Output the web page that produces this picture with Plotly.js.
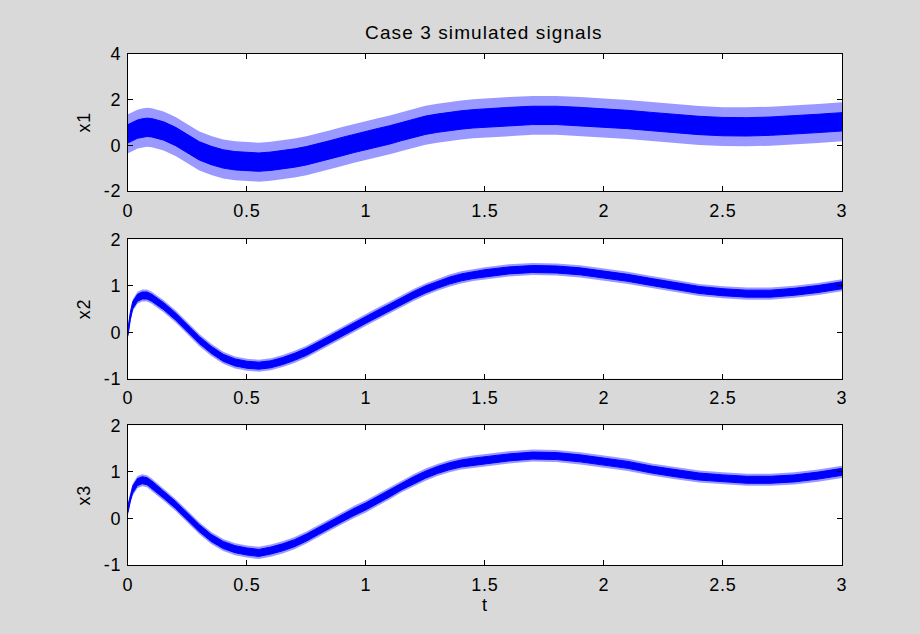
<!DOCTYPE html>
<html>
<head>
<meta charset="utf-8">
<script src="https://cdn.plot.ly/plotly-3.0.1.min.js"></script>
<style>
html,body{margin:0;padding:0;background:#d9d9d9;}
#chart{width:920px;height:634px;}
#chart .xtick text, #chart .ytick text, #chart .x2tick text, #chart .y2tick text, #chart .x3tick text, #chart .y3tick text {letter-spacing:0.8px;}
#chart .gtitle {letter-spacing:1.1px;}
#chart .ytitle, #chart .y2title, #chart .y3title, #chart .x3title {letter-spacing:0.8px;}
</style>
</head>
<body>
<div id="chart"></div>
<script>
var t = [0, 0.01, 0.02, 0.04, 0.06, 0.08, 0.1, 0.15, 0.2, 0.25, 0.3, 0.35, 0.4, 0.45, 0.5, 0.55, 0.6, 0.65, 0.7, 0.75, 0.8, 0.85, 0.9, 0.95, 1.0, 1.05, 1.1, 1.15, 1.2, 1.25, 1.3, 1.35, 1.4, 1.45, 1.5, 1.6, 1.7, 1.8, 1.9, 2.0, 2.1, 2.2, 2.3, 2.4, 2.5, 2.6, 2.7, 2.8, 2.9, 3.0];

// Mid level of each noisy signal
var x1_mid = [0.5, 0.55, 0.6, 0.7, 0.75, 0.78, 0.76, 0.62, 0.38, 0.05, -0.25, -0.45, -0.6, -0.68, -0.72, -0.74, -0.7, -0.64, -0.56, -0.46, -0.34, -0.2, -0.06, 0.08, 0.22, 0.33, 0.45, 0.6, 0.75, 0.87, 0.96, 1.04, 1.1, 1.15, 1.19, 1.25, 1.3, 1.3, 1.25, 1.19, 1.12, 1.03, 0.93, 0.86, 0.81, 0.8, 0.83, 0.88, 0.95, 1.02];
var x2_mid = [0, 0.35, 0.58, 0.74, 0.79, 0.79, 0.74, 0.56, 0.34, 0.09, -0.17, -0.38, -0.55, -0.65, -0.70, -0.72, -0.69, -0.62, -0.53, -0.42, -0.29, -0.15, -0.01, 0.13, 0.27, 0.40, 0.53, 0.67, 0.80, 0.92, 1.02, 1.11, 1.18, 1.23, 1.27, 1.33, 1.36, 1.35, 1.31, 1.24, 1.17, 1.08, 0.99, 0.91, 0.86, 0.83, 0.83, 0.87, 0.93, 1.01];
var x3_mid = [0.2, 0.45, 0.62, 0.78, 0.82, 0.8, 0.73, 0.51, 0.29, 0.04, -0.21, -0.42, -0.57, -0.66, -0.71, -0.74, -0.69, -0.62, -0.53, -0.41, -0.27, -0.13, 0.01, 0.14, 0.26, 0.40, 0.54, 0.69, 0.82, 0.94, 1.04, 1.12, 1.18, 1.22, 1.25, 1.31, 1.35, 1.34, 1.29, 1.22, 1.15, 1.05, 0.97, 0.90, 0.86, 0.83, 0.83, 0.86, 0.92, 1.0];

// Read noise half-widths: dense core and sparse spikes
var x1_core = 0.4, x1_spike = 0.85;
var x2_core = 0.075, x2_spike = 0.13;
var x3_core = 0.075, x3_spike = 0.13;

var yTicks12 = [-2, 0, 2, 4];
var yTicks23 = [-1, 0, 1, 2];
var xTicks = [0, 0.5, 1, 1.5, 2, 2.5, 3];
var names = ['x1', 'x2', 'x3'];

var BLUE = '#0000ff';
function band(mid, w, xa, ya, fill, lineW) {
  var xs = t.concat(t.slice().reverse());
  var hi = mid.map(function (v) { return v + w; });
  var lo = mid.map(function (v) { return v - w; }).reverse();
  return {x: xs, y: hi.concat(lo), xaxis: xa, yaxis: ya, type: 'scatter', mode: 'lines',
    fill: 'toself', fillcolor: fill, line: {color: fill, width: lineW}, hoverinfo: 'skip', showlegend: false};
}

var data = [
  band(x1_mid, x1_spike, 'x', 'y', 'rgba(0,0,255,0.4)', 0),
  band(x1_mid, x1_core, 'x', 'y', BLUE, 1),
  band(x2_mid, x2_spike, 'x2', 'y2', 'rgba(0,0,255,0.4)', 0),
  band(x2_mid, x2_core, 'x2', 'y2', BLUE, 1),
  band(x3_mid, x3_spike, 'x3', 'y3', 'rgba(0,0,255,0.4)', 0),
  band(x3_mid, x3_core, 'x3', 'y3', BLUE, 1)
];

var FONT = {family: 'Liberation Sans, Arial, sans-serif', size: 18, color: '#000'};
var TFONT = {family: 'Liberation Sans, Arial, sans-serif', size: 19, color: '#000'};
function xax(anchor, title) {
  var a = {domain: [0.1391, 0.9152], anchor: anchor, range: [0, 3], tickvals: xTicks, ticktext: xTicks.map(String),
    ticks: 'inside', ticklen: 5, tickcolor: '#000', showline: true, linecolor: '#000', linewidth: 1, mirror: 'ticks',
    showgrid: false, zeroline: false, tickfont: FONT, ticklabelstandoff: 3, fixedrange: true};
  if (title) a.title = {text: title, font: FONT, standoff: 4};
  return a;
}
function yax(dom, anchor, range, ticks, title) {
  return {domain: dom, anchor: anchor, range: range, tickvals: ticks, ticktext: ticks.map(String),
    ticks: 'inside', ticklen: 5, tickcolor: '#000', showline: true, linecolor: '#000', linewidth: 1, mirror: 'ticks',
    showgrid: false, zeroline: false, tickfont: FONT, ticklabelstandoff: 2,
    title: {text: title, font: FONT, standoff: 10}, fixedrange: true};
}

var layout = {
  width: 920, height: 634,
  margin: {l: 0, r: 0, t: 0, b: 0},
  paper_bgcolor: '#d9d9d9', plot_bgcolor: '#ffffff',
  showlegend: false,
  title: {text: 'Case 3 simulated signals', font: TFONT, x: 0.526, xanchor: 'center', y: 0.949, yanchor: 'middle'},
  xaxis: xax('y'),
  yaxis: yax([0.6987, 0.9156], 'x', [-2, 4], yTicks12, names[0]),
  xaxis2: xax('y2'),
  yaxis2: yax([0.4027, 0.6226], 'x2', [-1, 2], yTicks23, names[1]),
  xaxis3: xax('y3', 't'),
  yaxis3: yax([0.1088, 0.3292], 'x3', [-1, 2], yTicks23, names[2])
};

Plotly.newPlot('chart', data, layout, {displayModeBar: false, staticPlot: true});
</script>
</body>
</html>
